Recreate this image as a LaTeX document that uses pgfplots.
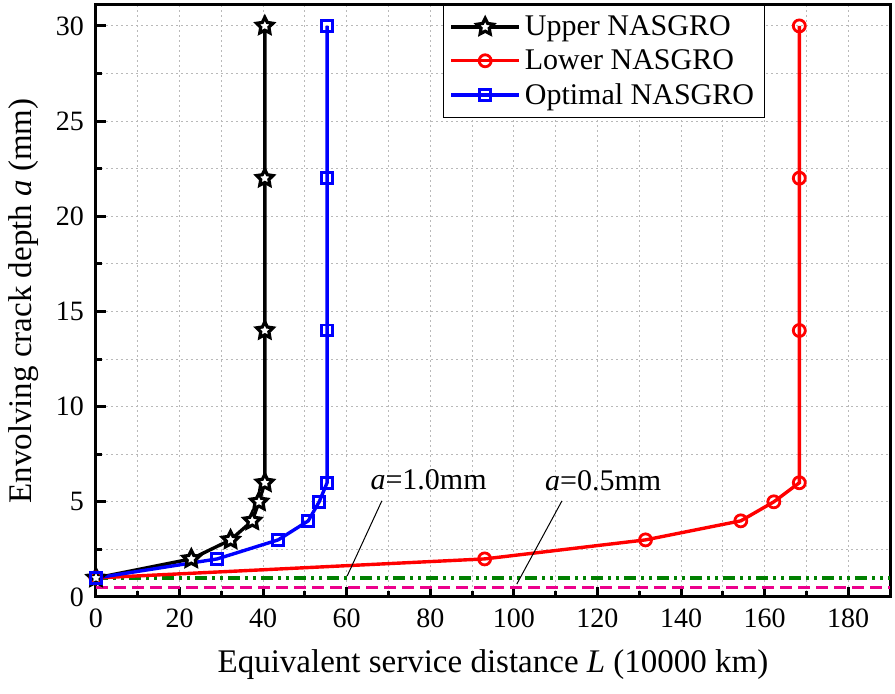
\documentclass[border=0pt]{standalone}
\usepackage{fontspec}
\setmainfont{Liberation Serif}
\usepackage{pgfplots}
\pgfplotsset{compat=1.18}

% filled five-point star with white centre
\pgfdeclareplotmark{fstar}{%
  \pgfpathmoveto{\pgfpointpolar{90}{\pgfplotmarksize}}%
  \foreach \k in {1,...,4}{%
    \pgfpathlineto{\pgfpointpolar{90+72*\k-36}{0.5\pgfplotmarksize}}%
    \pgfpathlineto{\pgfpointpolar{90+72*\k}{\pgfplotmarksize}}%
  }%
  \pgfpathlineto{\pgfpointpolar{90+72*5-36}{0.5\pgfplotmarksize}}%
  \pgfpathclose
  \pgfusepathqfillstroke
}

\definecolor{dgreen}{RGB}{0,128,0}

\begin{document}
\begin{tikzpicture}
\begin{axis}[
  at={(0pt,0pt)},anchor=south west,
  scale only axis,
  width=397pt,height=296pt,
  xmin=0,xmax=190,ymin=0,ymax=31.1,
  xtick={0,20,...,180},ytick={0,5,...,30},
  minor x tick num=1,minor y tick num=1,
  xtick pos=bottom,ytick pos=left,
  tick align=inside,
  major tick length=5pt,minor tick length=3pt,
  every tick/.style={black,line width=1.5pt},
  axis line style={line width=1.5pt},
  grid=both,
  major grid style={gray!55,line width=0.5pt,dash pattern=on 1pt off 1.5pt},
  minor grid style={gray!55,line width=0.5pt,dash pattern=on 1pt off 1.5pt},
  /pgf/number format/assume math mode=true,
  tick label style={font=\fontsize{14}{16}\selectfont},
  xticklabel style={yshift=-2.5pt},
  yticklabel style={xshift=-2.5pt},
  label style={font=\fontsize{16.5}{19}\selectfont},
  xlabel={Equivalent service distance \textit{L} (10000 km)},
  ylabel={Envolving crack depth \textit{a} (mm)},
  xlabel style={yshift=-4pt},
  ylabel style={yshift=2pt},
  legend style={at={(0.437,1)},anchor=north west,draw=black,line width=0.5pt,
    font=\fontsize{15}{17}\selectfont,row sep=1.5pt,inner sep=3pt},
  legend cell align=left,
  legend image code/.code={\draw[mark repeat=2,mark phase=2] plot coordinates {(0pt,0pt) (17pt,0pt) (34pt,0pt)};},
]
\addplot[dgreen,line width=1.7pt,dash pattern=on 6pt off 2.5pt on 1.5pt off 2.5pt on 1.5pt off 2.5pt,forget plot]
  coordinates {(0,1) (190,1)};
\addplot[magenta,line width=1.6pt,dash pattern=on 6pt off 3pt,forget plot]
  coordinates {(0,0.5) (190,0.5)};

\addplot[black,line width=1.7pt,mark=fstar,mark size=4.3pt,
  mark options={fill=white,line width=1.6pt}] coordinates {
  (0,1) (22.8,2) (32.2,3) (37.4,4) (39,5) (40.4,6) (40.4,14) (40.4,22) (40.4,30)
};
\addlegendentry{Upper NASGRO}
\addplot[red,line width=1.7pt,mark=o,mark size=3pt,
  mark options={fill=white,line width=1.4pt}] coordinates {
  (0,1) (93,2) (131.5,3) (154.3,4) (162.2,5) (168.3,6) (168.3,14) (168.3,22) (168.3,30)
};
\addlegendentry{Lower NASGRO}
\addplot[blue,line width=1.7pt,mark=square,mark size=2.7pt,
  mark options={fill=white,line width=1.4pt}] coordinates {
  (0,1) (29,2) (43.6,3) (50.8,4) (53.4,5) (55.3,6) (55.3,14) (55.3,22) (55.3,30)
};
\addlegendentry{Optimal NASGRO}

\draw[black,line width=0.5pt] (axis cs:68.4,5.05) -- (axis cs:60.1,1.1);
\draw[black,line width=0.5pt] (axis cs:111.5,5.05) -- (axis cs:100.7,0.68);
\node[anchor=base west,inner sep=0pt,font=\fontsize{15}{17}\selectfont]
  at (axis cs:65.6,5.63) {\textit{a}=1.0mm};
\node[anchor=base west,inner sep=0pt,font=\fontsize{15}{17}\selectfont]
  at (axis cs:107.4,5.58) {\textit{a}=0.5mm};
\end{axis}
\pgfresetboundingbox
\path[use as bounding box] (-48pt,-48.5pt) rectangle (399.5pt,298.5pt);
\end{tikzpicture}
\end{document}
